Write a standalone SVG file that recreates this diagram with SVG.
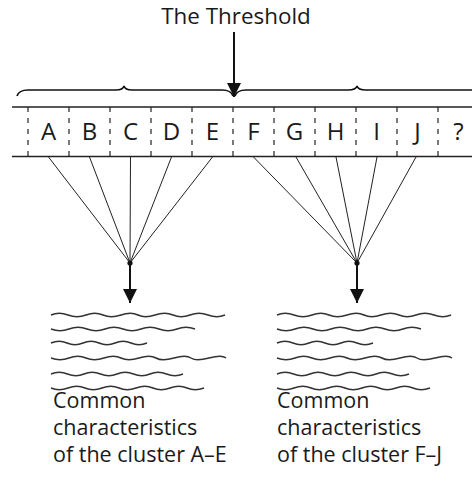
<svg xmlns="http://www.w3.org/2000/svg" width="472" height="484" viewBox="0 0 472 484">
<style>
text{font-family:"Open Sans","Noto Sans","Liberation Sans",sans-serif;fill:#1a1a1a}
.lbl{font-size:24px;text-anchor:middle}
.cap{font-size:21.5px}
.rule{stroke:#222;stroke-width:1.3;fill:none}
.dash{stroke:#222;stroke-width:1.2;stroke-dasharray:5 6;fill:none}
.fan{stroke:#222;stroke-width:1;fill:none}
.brace{stroke:#111;stroke-width:1.6;fill:none}
.arrow{stroke:#111;stroke-width:2;fill:none}
.wave{stroke:#333;stroke-width:1.5;fill:none}
</style>
<defs>
<marker id="ah" viewBox="0 0 14 16" refX="14" refY="8" markerWidth="14" markerHeight="16" markerUnits="userSpaceOnUse" orient="auto">
<path d="M0,1 L14,8 L0,15 Z" fill="#111"/>
</marker>
<g id="waves" class="wave">
<path d="M51,315 q8,-3.5 17,0 t18,0 t17,0 t18,0 t17,0 t17,0 t18,0 t17,0 t18,0 t17,0"/>
<path d="M51,329 q9,3.5 18,0 t18,0 t18,0 t18,0 t18,0 t18,0 t18,0 t18,0"/>
<path d="M51,343 q8,-3.5 16,0 t16,0 t16,0 t16,0 t16,0 t16,0"/>
<path d="M51,358 q9,3.5 18,0 t17,0 t18,0 t17,0 t18,0 t17,0 t18,0 t17,0 t18,0 t17,0"/>
<path d="M51,374 q8,-3.5 16.5,0 t16.5,0 t16.5,0 t16.5,0 t16.5,0 t16.5,0 t16.5,0 t16.5,0"/>
<path d="M51,388 q8,3.5 17,0 t17,0 t17,0 t17,0 t17,0 t17,0 t17,0 t17,0 t17,0"/>
</g>
</defs>

<g id="title">
<text x="236" y="24" style="font-size:22.4px" text-anchor="middle">The Threshold</text>
</g>

<g id="threshold-arrow">
<line x1="234" y1="32" x2="234" y2="97" class="arrow" marker-end="url(#ah)"/>
</g>

<g id="braces">
<path class="brace" d="M17,96 Q19,90 28,90 L116,90 Q123,90 124,86 Q125,90 132,90 L222,90 Q231,90 233,96"/>
<path class="brace" d="M235,96 Q237,90 246,90 L348,90 Q356,90 357,86 Q358,90 366,90 L472,90"/>
</g>

<g id="row">
<line x1="12" y1="107" x2="472" y2="107" class="rule"/>
<line x1="12" y1="156.5" x2="472" y2="156.5" class="rule"/>
<g class="dash">
<line x1="28" y1="107" x2="28" y2="156"/>
<line x1="69" y1="107" x2="69" y2="156"/>
<line x1="110" y1="107" x2="110" y2="156"/>
<line x1="151" y1="107" x2="151" y2="156"/>
<line x1="192" y1="107" x2="192" y2="156"/>
<line x1="233" y1="107" x2="233" y2="156"/>
<line x1="274" y1="107" x2="274" y2="156"/>
<line x1="315" y1="107" x2="315" y2="156"/>
<line x1="356" y1="107" x2="356" y2="156"/>
<line x1="397" y1="107" x2="397" y2="156"/>
<line x1="438" y1="107" x2="438" y2="156"/>
</g>
</g>

<g id="cell-A"><text class="lbl" x="48.5" y="140">A</text></g>
<g id="cell-B"><text class="lbl" x="89.5" y="140">B</text></g>
<g id="cell-C"><text class="lbl" x="130.5" y="140">C</text></g>
<g id="cell-D"><text class="lbl" x="171.5" y="140">D</text></g>
<g id="cell-E"><text class="lbl" x="212.5" y="140">E</text></g>
<g id="cell-F"><text class="lbl" x="253.5" y="140">F</text></g>
<g id="cell-G"><text class="lbl" x="294.5" y="140">G</text></g>
<g id="cell-H"><text class="lbl" x="335.5" y="140">H</text></g>
<g id="cell-I"><text class="lbl" x="376.5" y="140">I</text></g>
<g id="cell-J"><text class="lbl" x="417.5" y="140">J</text></g>
<g id="cell-Q"><text class="lbl" x="458.5" y="140">?</text></g>

<g id="connectors">
<g class="fan">
<line x1="48.5" y1="157" x2="130" y2="263"/>
<line x1="89.5" y1="157" x2="130" y2="263"/>
<line x1="130.5" y1="157" x2="130" y2="263"/>
<line x1="171.5" y1="157" x2="130" y2="263"/>
<line x1="212.5" y1="157" x2="130" y2="263"/>
<line x1="253.5" y1="157" x2="357" y2="263"/>
<line x1="296" y1="157" x2="357" y2="263"/>
<line x1="336" y1="157" x2="357" y2="263"/>
<line x1="377" y1="157" x2="357" y2="263"/>
<line x1="416" y1="157" x2="357" y2="263"/>
</g>
<circle cx="130" cy="263" r="2.6" fill="#111"/>
<circle cx="357" cy="263" r="2.6" fill="#111"/>
<line x1="130" y1="263" x2="130" y2="303" class="arrow" marker-end="url(#ah)"/>
<line x1="357" y1="263" x2="357" y2="303" class="arrow" marker-end="url(#ah)"/>
</g>

<g id="cluster-AE">
<use href="#waves"/>
<text class="cap" x="53" y="408">Common</text>
<text class="cap" x="53" y="435">characteristics</text>
<text class="cap" x="53" y="462">of the cluster A–E</text>
</g>

<g id="cluster-FJ">
<use href="#waves" transform="translate(226,0)"/>
<text class="cap" x="277" y="408">Common</text>
<text class="cap" x="277" y="435">characteristics</text>
<text class="cap" x="277" y="462">of the cluster F–J</text>
</g>
</svg>
